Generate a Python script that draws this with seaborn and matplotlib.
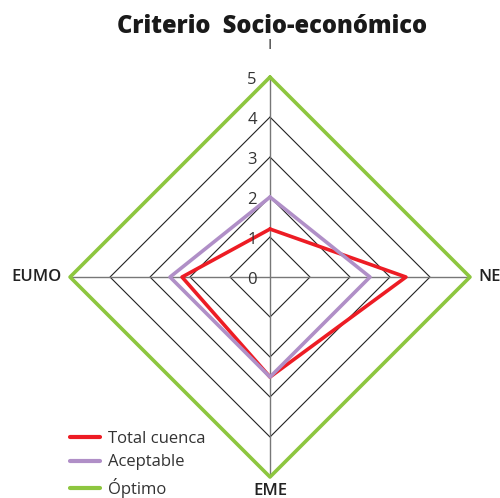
import numpy as np
import pandas as pd
import matplotlib
matplotlib.use("Agg")
import matplotlib.pyplot as plt
from matplotlib.lines import Line2D
import seaborn as sns

categories = ["I", "NE", "EME", "EUMO"]
total_cuenca = [1.2, 3.4, 2.5, 2.2]
aceptable = [2.0, 2.5, 2.5, 2.5]
optimo = [5, 5, 5, 5]
levels = [1, 2, 3, 4, 5]
tick_labels = ["0", "1", "2", "3", "4", "5"]

series = {"Total cuenca": total_cuenca, "Aceptable": aceptable, "Óptimo": optimo}
colors = {"Total cuenca": "#ed1c24", "Aceptable": "#b08fc7", "Óptimo": "#8dc63f"}

angles = np.linspace(0, 2 * np.pi, len(categories), endpoint=False)
closed = np.append(angles, 2 * np.pi)

rows = []
for name, vals in series.items():
    for t, v in zip(closed, vals + vals[:1]):
        rows.append({"theta": t, "valor": v, "serie": name})
df = pd.DataFrame(rows)

sns.set_style("white")
plt.rcParams["font.family"] = ["Open Sans", "DejaVu Sans"]

fig = plt.figure(figsize=(5, 4.98), dpi=100)
ax = fig.add_axes([0.14, 0.0422, 0.8, 0.803], projection="polar")
ax.set_theta_zero_location("N")
ax.set_theta_direction(-1)
ax.set_ylim(0, 5)
ax.grid(False)
ax.spines["polar"].set_visible(False)
ax.set_xticks([])
ax.set_yticks([])

# diamond grid and radial axes
for lv in levels:
    ax.plot(closed, [lv] * len(closed), color="#222222", lw=0.8, zorder=1)
for t in angles:
    ax.plot([t, t], [0, 5], color="#777777", lw=1.0, zorder=1)

sns.lineplot(data=df, x="theta", y="valor", hue="serie", sort=False, estimator=None,
             palette=colors, linewidth=2.6, ax=ax, zorder=3)
for ln in ax.lines:
    ln.set_clip_on(False)
ax.set_xlabel("")
ax.set_ylabel("")
ax.get_legend().remove()

# radial tick labels
for i, lab in enumerate(tick_labels):
    ax.annotate(lab, xy=(0, i), xytext=(-13, -2), textcoords="offset points",
                ha="center", va="center", fontsize=12, color="#333333")

# category labels
ax.text(angles[0], 5.8, categories[0], ha="center", va="center", fontsize=11, color="#333333")
ax.text(angles[1], 5.2, categories[1], ha="left", va="center", fontsize=12,
        color="#222222", fontweight="semibold")
ax.text(angles[2], 5.35, categories[2], ha="center", va="center", fontsize=12,
        color="#222222", fontweight="semibold")
ax.text(angles[3], 5.2, categories[3], ha="right", va="center", fontsize=12,
        color="#222222", fontweight="semibold")

fig.text(0.545, 0.947, "Criterio  Socio-económico", ha="center", va="center",
         fontsize=17, fontweight="heavy", color="#1a1a1a")

handles = [Line2D([0], [0], color=colors[n], lw=3) for n in series]
fig.legend(handles, list(series.keys()), loc="lower left", bbox_to_anchor=(0.11, -0.03),
           frameon=False, fontsize=12, handlelength=1.8, labelspacing=0.45,
           handletextpad=0.5, labelcolor="#333333")

fig.savefig("out.png", dpi=100)
